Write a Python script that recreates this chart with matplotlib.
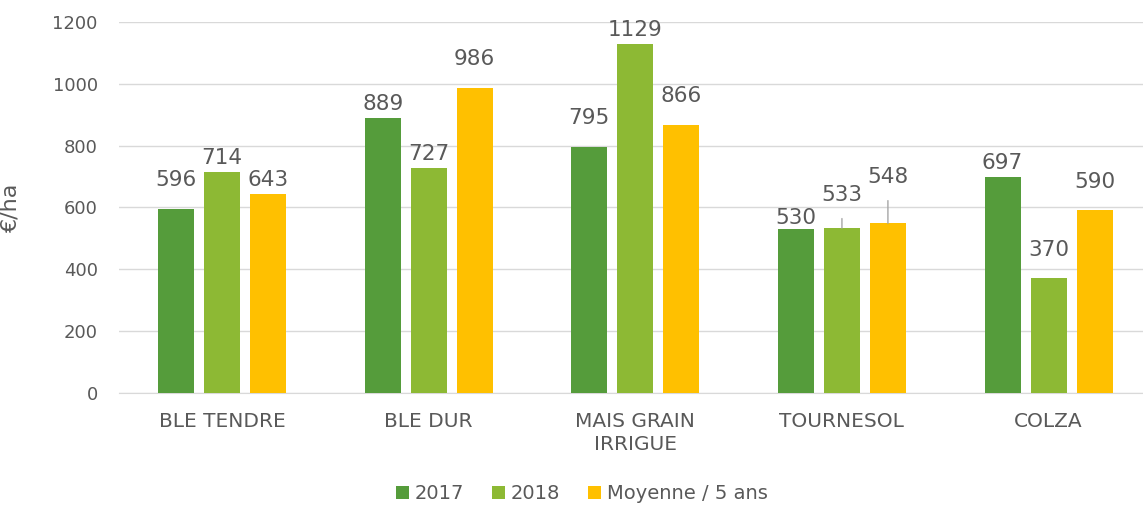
import matplotlib.pyplot as plt
import numpy as np

# data
categories = ['BLE TENDRE', 'BLE DUR', 'MAIS GRAIN\nIRRIGUE', 'TOURNESOL', 'COLZA']
series_names = ['2017', '2018', 'Moyenne / 5 ans']
v2017 = [596, 889, 795, 530, 697]
v2018 = [714, 727, 1129, 533, 370]
vmoy = [643, 986, 866, 548, 590]
colors = ['#559C3B', '#8DB934', '#FFC000']

# label heights for the two tournesol labels pushed up with a leader line
lifted = {(1, 3): 641, (2, 3): 699}
# labels that sit a bit higher above their bar in the original
raised = {(0, 0), (0, 2), (1, 4), (2, 1), (2, 2), (2, 4)}

plt.rcParams['font.family'] = ['DejaVu Sans']
txt = '#595959'

fig = plt.figure(figsize=(11.43, 5.07), dpi=100)
ax = fig.add_axes([0.1038, 0.225, 0.904, 0.732])

x = np.arange(len(categories))
w = 0.174
pitch = 0.2225
all_vals = [v2017, v2018, vmoy]
for i, vals in enumerate(all_vals):
    xs = x + (i - 1) * pitch
    ax.bar(xs, vals, width=w, color=colors[i], label=series_names[i], zorder=3)
    for j, (xx, v) in enumerate(zip(xs, vals)):
        if (i, j) in lifted:
            ax.annotate(str(v), xy=(xx, v), xytext=(xx, lifted[(i, j)]),
                        ha='center', va='center', fontsize=15.5, color=txt,
                        arrowprops=dict(arrowstyle='-', color='#A6A6A6', lw=1,
                                        shrinkA=8, shrinkB=0))
        else:
            off = 13.5 if (i, j) in raised else 3
            if (i, j) == (0, 3):
                off = 1
            ax.annotate(str(v), xy=(xx, v), xytext=(0, off), textcoords='offset points',
                        ha='center', va='bottom', fontsize=15.5, color=txt)

ax.set_ylim(0, 1200)
ax.set_xlim(-0.5, len(categories) - 0.5)
ax.set_yticks(range(0, 1201, 200))
ax.set_xticks(x)
ax.set_xticklabels(categories, fontsize=14.5, color=txt, linespacing=1.25)
ax.tick_params(axis='y', labelsize=13, labelcolor=txt, length=0, pad=15)
ax.tick_params(axis='x', length=0, pad=14)
ax.grid(axis='y', color='#D9D9D9', lw=1, zorder=0)
for s in ['top', 'right', 'left']:
    ax.spines[s].set_visible(False)
ax.spines['bottom'].set_color('#D9D9D9')
ax.set_ylabel('€/ha', fontsize=16, color=txt)
ax.yaxis.set_label_coords(-0.0954, 0.5)

ax.legend(loc='center', bbox_to_anchor=(0.509, 0.026), bbox_transform=fig.transFigure,
          ncol=3, frameon=False, fontsize=14, labelcolor=txt,
          handlelength=0.7, handleheight=0.7, handletextpad=0.3, columnspacing=1.4)

fig.savefig('out.png', dpi=100)
